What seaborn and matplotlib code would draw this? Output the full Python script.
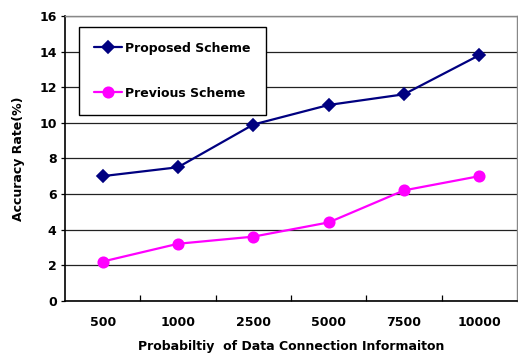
import matplotlib
matplotlib.use("Agg")
import matplotlib.pyplot as plt
import seaborn as sns
import pandas as pd
from matplotlib.ticker import FixedLocator

# Data
sizes = ["500", "1000", "2500", "5000", "7500", "10000"]
proposed = [7.0, 7.5, 9.9, 11.0, 11.6, 13.8]
previous = [2.2, 3.2, 3.6, 4.4, 6.2, 7.0]
series_names = ["Proposed Scheme", "Previous Scheme"]
y_ticks = [0, 2, 4, 6, 8, 10, 12, 14, 16]

df = pd.DataFrame({
    "size": sizes * 2,
    "rate": proposed + previous,
    "scheme": [series_names[0]] * len(sizes) + [series_names[1]] * len(sizes),
})

sns.set_theme(style="white")
plt.rcParams["font.family"] = ["DejaVu Sans"]

fig = plt.figure(figsize=(5.18, 3.54), dpi=100)
ax = fig.add_axes([65 / 518, 1 - 300.7 / 354, 452 / 518, 284.7 / 354])

sns.pointplot(
    data=df, x="size", y="rate", hue="scheme", order=sizes,
    hue_order=series_names,
    palette={series_names[0]: "#000080", series_names[1]: "#FF00FF"},
    markers=["D", "o"], linestyles=["-", "-"],
    markersize=7, linewidth=1.6, ax=ax, legend=False, errorbar=None,
)

# the two series lines (with markers)
series_lines = [ln for ln in ax.lines if ln.get_marker() not in ("None", "", None)]
for ln in series_lines:
    ln.set_markeredgecolor(ln.get_color())
    ln.set_markerfacecolor(ln.get_color())
series_lines[0].set_markersize(6.5)
series_lines[1].set_markersize(7.5)

ax.set_xlim(-0.5, len(sizes) - 0.5)
ax.set_ylim(0, 16)
ax.set_yticks(y_ticks)
ax.yaxis.grid(True, color="#222222", linewidth=0.9)
ax.set_axisbelow(True)

# category separators along the x axis
ax.xaxis.set_minor_locator(FixedLocator([i + 0.5 for i in range(len(sizes) - 1)]))
ax.tick_params(axis="x", which="minor", direction="in", length=4, width=0.9,
               color="black", bottom=True)
ax.tick_params(axis="x", which="major", length=0, pad=11)
ax.tick_params(axis="y", which="major", direction="out", length=3, width=0.9,
               color="black", left=True, pad=3)

for lab in ax.get_xticklabels() + ax.get_yticklabels():
    lab.set_fontweight("bold")
    lab.set_fontsize(9)
    lab.set_color("black")

for side in ["left", "bottom"]:
    ax.spines[side].set_color("black")
    ax.spines[side].set_linewidth(1.2)
for side in ["top", "right"]:
    ax.spines[side].set_color("#888888")
    ax.spines[side].set_linewidth(1.0)

ax.set_xlabel("Probabiltiy  of Data Connection Informaiton", fontsize=9,
              fontweight="bold", color="black", labelpad=8)
ax.set_ylabel("Accuracy Rate(%)", fontsize=9, fontweight="bold",
              color="black", labelpad=10)

leg = ax.legend(series_lines, series_names, loc="upper left",
                bbox_to_anchor=(0.031, 0.962), frameon=True, fancybox=False,
                edgecolor="black", framealpha=1, fontsize=9,
                labelspacing=2.55, handlelength=2.2, handletextpad=0.3,
                borderpad=1.2, borderaxespad=0)
leg.get_frame().set_linewidth(1.0)
for t in leg.get_texts():
    t.set_fontweight("bold")
    t.set_color("black")

fig.savefig("out.png", dpi=100)
